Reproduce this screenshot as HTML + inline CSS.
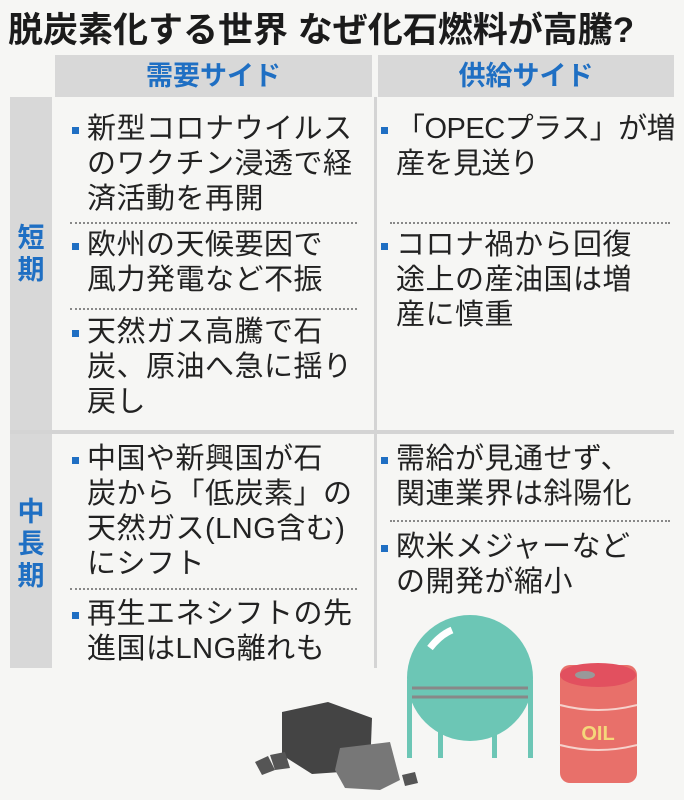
<!DOCTYPE html>
<html><head><meta charset="utf-8"><style>
body{margin:0;width:684px;height:800px;background:#f6f6f4;position:relative;overflow:hidden;font-family:"Liberation Sans","Noto Sans CJK JP",sans-serif;color:#222}
.a{position:absolute}
.t{font-size:35px;font-weight:bold;left:8px;top:2px;letter-spacing:0;white-space:nowrap;color:#1b1b1b}
.h{background:#d8d8d8;color:#1f6fc3;font-weight:bold;font-size:27px;text-align:center;line-height:42px;top:55px;height:42px}
.side{background:#d8d8d8;left:10px;width:42px}
.vl{color:#1f6fc3;font-weight:bold;font-size:27px;width:42px;text-align:center;line-height:32px}
.it{font-size:29px;line-height:35px;letter-spacing:0.5px;white-space:nowrap}
.b{display:inline-block;width:7px;height:7px;background:#1f6fc3;position:absolute;left:-15px;top:15px}
.d{border-top:2px dotted #888;height:0}
</style></head><body>
<div class="a t">脱炭素化する世界 なぜ化石燃料が高騰?</div>
<div class="a h" style="left:55px;width:317px">需要サイド</div>
<div class="a h" style="left:378px;width:296px">供給サイド</div>
<div class="a side" style="top:97px;height:333px"></div>
<div class="a side" style="top:434px;height:234px"></div>
<div class="a vl" style="left:10px;top:222px">短<br>期</div>
<div class="a vl" style="left:10px;top:496px">中<br>長<br>期</div>
<div class="a" style="left:374px;top:97px;width:3px;height:571px;background:#d4d4d4"></div>
<div class="a" style="left:10px;top:430px;width:664px;height:4px;background:#d4d4d4"></div>

<div class="a it" style="left:87px;top:112px"><span class="b"></span>新型コロナウイルス<br>のワクチン浸透で経<br>済活動を再開</div>
<div class="a d" style="left:70px;top:222px;width:287px"></div>
<div class="a it" style="left:87px;top:228px"><span class="b"></span>欧州の天候要因で<br>風力発電など不振</div>
<div class="a d" style="left:70px;top:308px;width:287px"></div>
<div class="a it" style="left:87px;top:315px"><span class="b"></span>天然ガス高騰で石<br>炭、原油へ急に揺り<br>戻し</div>

<div class="a it" style="left:87px;top:442px"><span class="b"></span>中国や新興国が石<br>炭から「低炭素」の<br>天然ガス(LNG含む)<br>にシフト</div>
<div class="a d" style="left:70px;top:588px;width:287px"></div>
<div class="a it" style="left:87px;top:597px"><span class="b"></span>再生エネシフトの先<br>進国はLNG離れも</div>

<div class="a it" style="left:396px;top:112px;letter-spacing:-0.5px"><span class="b"></span>「OPECプラス」が増<br>産を見送り</div>
<div class="a d" style="left:390px;top:222px;width:280px"></div>
<div class="a it" style="left:396px;top:228px"><span class="b"></span>コロナ禍から回復<br>途上の産油国は増<br>産に慎重</div>
<div class="a it" style="left:396px;top:442px"><span class="b"></span>需給が見通せず、<br>関連業界は斜陽化</div>
<div class="a d" style="left:390px;top:520px;width:280px"></div>
<div class="a it" style="left:396px;top:530px"><span class="b"></span>欧米メジャーなど<br>の開発が縮小</div>

<svg class="a" style="left:0;top:0" width="684" height="800">
<g fill="#6cc6b5">
<circle cx="470" cy="678" r="63"/>
<rect x="407" y="680" width="5" height="78"/><rect x="528" y="680" width="5" height="78"/>
<rect x="438" y="720" width="5" height="38"/><rect x="492" y="720" width="5" height="38"/>
</g>
<g stroke="#888" stroke-width="3"><line x1="412" y1="688" x2="528" y2="688"/><line x1="412" y1="697" x2="528" y2="697"/></g>
<path d="M430 648 Q440 635 452 630" stroke="#fff" stroke-width="7" fill="none"/>
<rect x="560" y="665" width="77" height="118" rx="10" fill="#e8706a"/>
<ellipse cx="598" cy="675" rx="38" ry="12" fill="#e2505f"/>
<ellipse cx="585" cy="675" rx="10" ry="4" fill="#999"/>
<g stroke="#f6d2cc" stroke-width="2" fill="none"><path d="M560 705 Q598 715 637 705"/><path d="M560 745 Q598 755 637 745"/></g>
<text x="598" y="740" text-anchor="middle" font-family="Liberation Sans" font-weight="bold" font-size="20" fill="#f5d77a">OIL</text>
<polygon points="282,712 328,702 372,718 370,770 312,774 282,755" fill="#444"/>
<polygon points="340,748 390,742 400,780 380,790 345,788 335,770" fill="#777"/>
<polygon points="255,762 268,756 275,770 262,775" fill="#555"/>
<polygon points="270,755 285,752 290,768 275,770" fill="#555"/>
<polygon points="402,775 415,772 418,783 405,786" fill="#555"/>
</svg>
</body></html>
